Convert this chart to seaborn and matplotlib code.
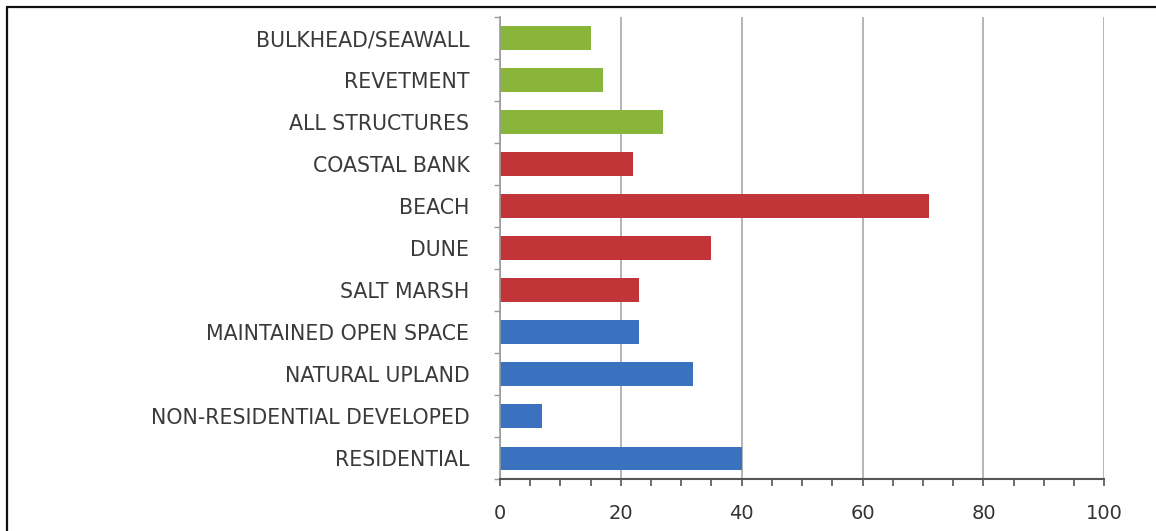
import numpy as np
import pandas as pd
import matplotlib
matplotlib.use("Agg")
import matplotlib.pyplot as plt
from matplotlib.lines import Line2D
from matplotlib.ticker import MultipleLocator, FixedLocator
import seaborn as sns

# ---- data (top to bottom) ----
categories = [
    "BULKHEAD/SEAWALL", "REVETMENT", "ALL STRUCTURES",
    "COASTAL BANK", "BEACH", "DUNE", "SALT MARSH",
    "MAINTAINED OPEN SPACE", "NATURAL UPLAND", "NON-RESIDENTIAL DEVELOPED", "RESIDENTIAL",
]
values = [15, 17, 27, 22, 71, 35, 23, 23, 32, 7, 40]
groups = ["Structures"] * 3 + ["Natural resource"] * 4 + ["Land use"] * 4
group_colors = {"Structures": "#8AB53B", "Natural resource": "#C13437", "Land use": "#3A72C0"}
x_ticks = [0, 20, 40, 60, 80, 100]

df = pd.DataFrame({"category": categories, "value": values, "group": groups})

sns.set_theme(style="white")
plt.rcParams["font.family"] = ["DejaVu Sans"]

fig = plt.figure(figsize=(11.56, 5.31), dpi=100)
ax = fig.add_axes([0.4325, 0.0974, 0.9553 - 0.4325, 0.968 - 0.0974])

sns.barplot(data=df, x="value", y="category", hue="group", palette=group_colors,
            dodge=False, width=0.56, legend=False, order=categories, ax=ax,
            saturation=1, edgecolor="none")

n = len(categories)
ax.set_xlim(0, 100)
ax.set_ylim(n - 0.5, -0.5)
ax.set_xlabel("")
ax.set_ylabel("")

# gridlines
ax.set_xticks(x_ticks)
ax.xaxis.set_minor_locator(MultipleLocator(5))
ax.grid(axis="x", which="major", color="#A8A8A8", linewidth=1.2)
ax.set_axisbelow(True)

# spines
ax.spines["top"].set_visible(False)
ax.spines["right"].set_visible(False)
ax.spines["left"].set_color("#9A9A9A")
ax.spines["left"].set_linewidth(1.2)
ax.spines["bottom"].set_color("#555555")
ax.spines["bottom"].set_linewidth(1.5)

ax.tick_params(axis="x", which="both", direction="out", length=5, width=1.2,
               color="#555555", bottom=True, labelsize=14, labelcolor="#333333", pad=13)
ax.set_xticklabels([str(t) for t in x_ticks])

# y: labels at centers without marks, marks at slot boundaries
ax.yaxis.set_minor_locator(FixedLocator(np.arange(n + 1) - 0.5))
ax.tick_params(axis="y", which="major", length=0, pad=22, labelsize=14.8, labelcolor="#3A3A3A")
ax.tick_params(axis="y", which="minor", direction="out", length=4.5, width=1.0,
               color="#9A9A9A", left=True)

# outer frame (top and left)
fig.add_artist(Line2D([7 / 1156, 1], [1 - 7 / 531, 1 - 7 / 531], color="#111111",
                      linewidth=1.6, transform=fig.transFigure))
fig.add_artist(Line2D([7 / 1156, 7 / 1156], [0, 1 - 7 / 531], color="#111111",
                      linewidth=1.6, transform=fig.transFigure))

fig.savefig("out.png", dpi=100)
